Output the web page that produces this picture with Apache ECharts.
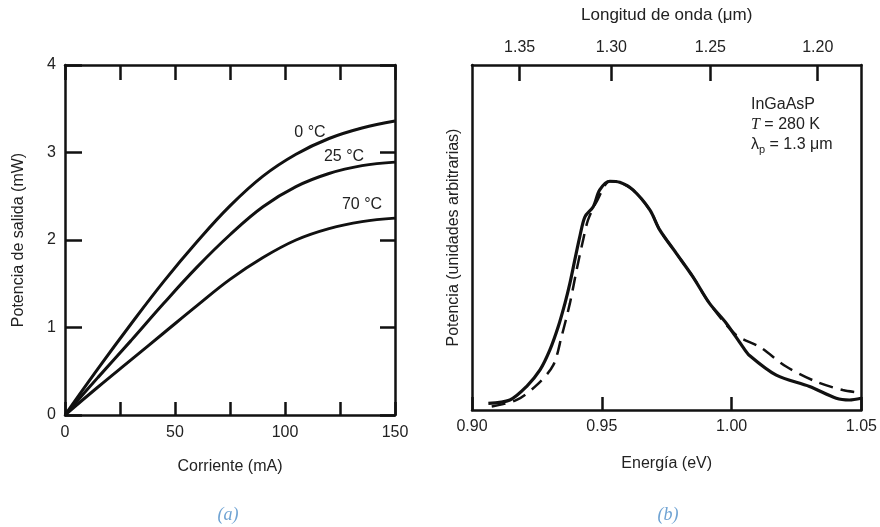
<!DOCTYPE html>
<html>
<head>
<meta charset="utf-8">
<script src="https://cdn.jsdelivr.net/npm/echarts@6/dist/echarts.min.js"></script>
<style>
  html, body { margin: 0; padding: 0; background: #fff; }
  #main { width: 880px; height: 527px; }
</style>
</head>
<body>
<div id="main"></div>
<script>
// (a) potencia de salida vs corriente
var corriente = [0, 15, 30, 45, 60, 75, 90, 105, 120, 135, 150];
var p0C  = [0, 0.53, 1.04, 1.53, 1.98, 2.39, 2.73, 2.98, 3.16, 3.28, 3.36];
var p25C = [0, 0.43, 0.85, 1.28, 1.69, 2.06, 2.38, 2.61, 2.76, 2.85, 2.89];
var p70C = [0, 0.32, 0.63, 0.94, 1.25, 1.55, 1.80, 2.00, 2.13, 2.21, 2.25];

// (b) espectro: energia (eV) y potencia (unidades arbitrarias)
var energiaSolida = [0.9063, 0.9146, 0.9210, 0.9262, 0.9300, 0.9332, 0.9358, 0.9377, 0.9396, 0.9415, 0.9435, 0.9467, 0.9492, 0.9531,
                     0.9569, 0.9620, 0.9685, 0.9723, 0.9787, 0.9851, 0.9915, 0.9980, 1.0043, 1.0069, 1.0172, 1.0300, 1.0403, 1.0454, 1.0499];
var potSolida     = [1.9, 2.9, 6.8, 11.6, 17.4, 24.1, 30.9, 36.7, 43.5, 50.2, 56.0, 58.9, 63.8, 66.3,
                     66.0, 63.8, 58.0, 52.2, 45.4, 38.6, 30.9, 25.1, 18.3, 15.8, 10.1, 6.8, 3.4, 2.9, 3.4];
var energiaTeor = [0.9076, 0.9172, 0.9249, 0.9313, 0.9345, 0.9377, 0.9403, 0.9428, 0.9447, 0.9480, 0.9531,
                   0.9569, 0.9620, 0.9685, 0.9723, 0.9787, 0.9851, 0.9915, 1.0018, 1.0108, 1.0210, 1.0326, 1.0428, 1.0499];
var potTeor     = [1.0, 2.9, 7.2, 13.0, 21.3, 30.9, 40.6, 49.3, 55.1, 60.4, 66.3,
                   66.0, 63.8, 58.0, 52.2, 45.4, 38.6, 30.9, 21.7, 18.3, 12.6, 8.2, 5.8, 5.0];

// eje superior: longitud de onda (um)
var longitudTicks = [1.35, 1.30, 1.25, 1.20];
var HC = 1.2398; // eV*um
var longitudEnEnergia = longitudTicks.map(function (l) { return HC / l; });

function pares(xs, ys) {
  return xs.map(function (x, i) { return [x, ys[i]]; });
}

var negro = '#111';
var texto = '#222';
var fuente = 'Liberation Sans, Arial, sans-serif';
var borde = { show: true, onZero: false, lineStyle: { color: negro, width: 2.5 } };

var chart = echarts.init(document.getElementById('main'));

var option = {
  backgroundColor: '#fff',
  animation: false,
  grid: [
    { left: 65, top: 65, width: 330, height: 350 },
    { left: 472, top: 65, width: 390, height: 345 }
  ],
  xAxis: [
    {
      gridIndex: 0, type: 'value', min: 0, max: 150, interval: 25, position: 'bottom',
      axisLine: borde,
      axisTick: { inside: true, length: 13, lineStyle: { color: negro, width: 2.5 } },
      axisLabel: {
        color: texto, fontSize: 16, fontFamily: fuente, margin: 10,
        formatter: function (v) { return v % 50 === 0 ? String(v) : ''; }
      },
      splitLine: { show: false },
      name: 'Corriente (mA)', nameLocation: 'middle', nameGap: 44,
      nameTextStyle: { color: texto, fontSize: 16, fontFamily: fuente }
    },
    {
      gridIndex: 0, type: 'value', min: 0, max: 150, interval: 25, position: 'top',
      axisLine: borde,
      axisTick: { inside: true, length: 15, lineStyle: { color: negro, width: 2.5 } },
      axisLabel: { show: false },
      splitLine: { show: false }
    },
    {
      gridIndex: 1, type: 'value', min: 0.90, max: 1.05, interval: 0.05, position: 'bottom',
      axisLine: borde,
      axisTick: { inside: true, length: 13, lineStyle: { color: negro, width: 2.5 } },
      axisLabel: {
        color: texto, fontSize: 16, fontFamily: fuente, margin: 9,
        formatter: function (v) { return v.toFixed(2); }
      },
      splitLine: { show: false },
      name: 'Energía (eV)', nameLocation: 'middle', nameGap: 46,
      nameTextStyle: { color: texto, fontSize: 16, fontFamily: fuente }
    },
    {
      gridIndex: 1, type: 'value', min: 0.90, max: 1.05, position: 'top',
      axisLine: borde,
      axisTick: { inside: true, length: 16, customValues: longitudEnEnergia, lineStyle: { color: negro, width: 2.5 } },
      axisLabel: {
        color: texto, fontSize: 16, fontFamily: fuente, margin: 9,
        customValues: longitudEnEnergia,
        formatter: function (v) { return (HC / v).toFixed(2); }
      },
      splitLine: { show: false },
      name: 'Longitud de onda (μm)', nameLocation: 'middle', nameGap: 41,
      nameTextStyle: { color: texto, fontSize: 17, fontFamily: fuente }
    }
  ],
  yAxis: [
    {
      gridIndex: 0, type: 'value', min: 0, max: 4, interval: 1, position: 'left',
      axisLine: borde,
      axisTick: { inside: true, length: 17, lineStyle: { color: negro, width: 2.5 } },
      axisLabel: { color: texto, fontSize: 16, fontFamily: fuente, margin: 9 },
      splitLine: { show: false },
      name: 'Potencia de salida (mW)', nameLocation: 'middle', nameGap: 38,
      nameTextStyle: { color: texto, fontSize: 16, fontFamily: fuente }
    },
    {
      gridIndex: 0, type: 'value', min: 0, max: 4, interval: 1, position: 'right',
      axisLine: borde,
      axisTick: { inside: true, length: 15, lineStyle: { color: negro, width: 2.5 } },
      axisLabel: { show: false },
      splitLine: { show: false }
    },
    {
      gridIndex: 1, type: 'value', min: 0, max: 100, position: 'left',
      axisLine: borde,
      axisTick: { show: false },
      axisLabel: { show: false },
      splitLine: { show: false },
      name: 'Potencia (unidades arbitrarias)', nameLocation: 'middle', nameGap: 10,
      nameTextStyle: { color: texto, fontSize: 16, fontFamily: fuente }
    },
    {
      gridIndex: 1, type: 'value', min: 0, max: 100, position: 'right',
      axisLine: borde,
      axisTick: { show: false },
      axisLabel: { show: false },
      splitLine: { show: false }
    }
  ],
  series: [
    { name: '0 °C', type: 'line', xAxisIndex: 0, yAxisIndex: 0, smooth: 0.4, showSymbol: false,
      lineStyle: { color: negro, width: 3 }, data: pares(corriente, p0C) },
    { name: '25 °C', type: 'line', xAxisIndex: 0, yAxisIndex: 0, smooth: 0.4, showSymbol: false,
      lineStyle: { color: negro, width: 3 }, data: pares(corriente, p25C) },
    { name: '70 °C', type: 'line', xAxisIndex: 0, yAxisIndex: 0, smooth: 0.4, showSymbol: false,
      lineStyle: { color: negro, width: 3 }, data: pares(corriente, p70C) },
    { name: 'medido', type: 'line', xAxisIndex: 2, yAxisIndex: 2, smooth: 0.3, showSymbol: false,
      lineStyle: { color: negro, width: 3.2 }, data: pares(energiaSolida, potSolida) },
    { name: 'teórico', type: 'line', xAxisIndex: 2, yAxisIndex: 2, smooth: 0.3, showSymbol: false,
      lineStyle: { color: negro, width: 2.5, type: [14, 8] }, data: pares(energiaTeor, potTeor) }
  ],
  graphic: [
    { type: 'text', x: 310, y: 133, style: { text: '0 °C', fill: texto, font: '16px ' + fuente, textAlign: 'center', textVerticalAlign: 'middle' } },
    { type: 'text', x: 344, y: 157, style: { text: '25 °C', fill: texto, font: '16px ' + fuente, textAlign: 'center', textVerticalAlign: 'middle' } },
    { type: 'text', x: 362, y: 205, style: { text: '70 °C', fill: texto, font: '16px ' + fuente, textAlign: 'center', textVerticalAlign: 'middle' } },
    { type: 'text', x: 751, y: 95, style: {
        text: 'InGaAsP\n{i|T} = 280 K\nλ{s|p} = 1.3 μm',
        fill: texto, font: '16px ' + fuente, lineHeight: 20,
        rich: {
          i: { fontStyle: 'italic', fontSize: 16, fontFamily: 'Liberation Serif, serif', fill: texto },
          s: { fontSize: 11, verticalAlign: 'bottom', padding: [7, 0, 0, 0], fill: texto }
        }
      } },
    { type: 'text', x: 228, y: 515, style: { text: '(a)', fill: '#6fa3d3', font: 'italic 18px Liberation Serif, serif', textAlign: 'center', textVerticalAlign: 'middle' } },
    { type: 'text', x: 668, y: 515, style: { text: '(b)', fill: '#6fa3d3', font: 'italic 18px Liberation Serif, serif', textAlign: 'center', textVerticalAlign: 'middle' } }
  ]
};

chart.setOption(option);
</script>
</body>
</html>
